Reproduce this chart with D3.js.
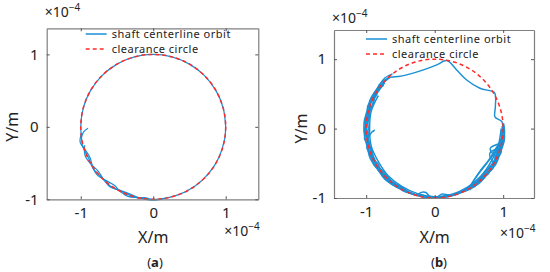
<!DOCTYPE html>
<html>
<head>
<meta charset="utf-8">
<script src="https://cdn.jsdelivr.net/npm/d3@7"></script>
<style>
  body { margin: 0; background: #fff; }
  text { font-family: "Noto Sans", sans-serif; fill: #222; }
</style>
</head>
<body>
<svg id="chart" width="550" height="272"></svg>
<script>
// ---- data (x, y in units of 1e-4 m; orbit points given as [angle deg, radius]) ----
const xTicks = [-1, 0, 1];
const yTicks = [-1, 0, 1];
const clearanceRadius = 1;
const legendLabels = ["shaft centerline orbit", "clearance circle"];
const axisLabels = ["X/m", "Y/m"];
const captions = ["a", "b"];

// panel (a): orbit lies on the clearance circle, a little wobble lower left
const orbitA = [
  [[0,1],[15,1],[30,1],[45,1],[60,1],[75,1],[90,1],[105,1],[120,1],[135,1],[150,1],[165,1],[180,1],
   [188,1.0],[195,1.01],[205,0.99],[215,1.01],[225,0.995],[235,1.01],[245,0.99],[255,1.005],[265,1],
   [275,1],[290,1],[305,1],[320,1],[335,1],[350,1],[360,1]],
  [[181.3,0.90],[184,0.96],[188,1.0]],
  [[186,1.0],[192,1.03],[199,0.99],[206,0.97],[213,1.0],[220,1.02],[228,0.99],[236,0.97],[243,1.0],
   [250,1.02],[257,1.0],[263,0.985],[268,1.0]],
  [[195,0.98],[203,1.02],[211,1.0],[219,0.975],[227,1.0],[234,1.02],[242,0.99],[250,0.98],[258,1.0]],
  [[262,1.0],[270,1.012],[278,1.0]]
];

// panel (b): orbit cuts across the top, dense band on the lower half
const orbitB = [
  [[131.3,0.985],[140,1.0],[150,1.02],[160,1.0],[170,1.02],[180,1.01],[190,1.0],[200,1.02],[210,0.99],
   [220,1.01],[230,1.0],[240,1.0],[250,0.99],[260,1.0],[270,0.99],[280,1.0],[290,1.0],[300,1.0],
   [310,1.01],[320,1.0],[330,1.02],[340,1.0],[350,1.01],[360,1.0],[365.8,0.985],[370.9,0.896],
   [378.7,0.934],[387.4,1.001],[391,1.014],[401.3,0.880],[416.3,0.842],[429.2,0.904],[439.8,0.996],
   [448.1,0.918],[461,0.861],[477.8,0.874],[485.2,0.917],[491.3,0.985]],
  [[140,0.97],[150,1.0],[160,0.97],[170,0.99],[180,0.97],[190,0.99],[200,0.97],[210,1.0],[220,0.97],
   [230,0.99],[240,0.97],[250,1.0],[260,0.98],[270,1.0],[280,0.98],[290,1.0],[300,0.98],[310,0.99],
   [320,0.97],[330,0.99],[340,0.97],[350,0.99],[360,0.98]],
  [[128,1.0],[135,1.03],[145,1.02],[155,1.03],[165,1.02],[175,1.035],[185,1.03],[195,1.02],[205,1.035],
   [215,1.02],[225,1.03],[235,1.01],[245,1.0],[255,0.995],[270,1.0],[285,0.995],[300,1.0],[310,1.02],
   [320,1.01],[330,1.03],[340,1.02],[350,1.03],[358,1.02],[364,1.01]],
  [[150,0.95],[165,0.96],[180,0.95],[195,0.96],[210,0.95],[225,0.96],[240,0.96],[255,0.97],[270,0.98],
   [285,0.98],[300,0.97],[315,0.96],[330,0.95],[345,0.96],[360,0.97]],
  [[136,1.01],[146,0.98],[156,1.025],[166,0.975],[176,1.02],[186,0.97],[196,1.03],[206,0.98],[216,1.02],
   [226,0.975],[236,1.01],[246,0.985],[256,1.0]],
  [[142,1.03],[152,0.99],[162,1.03],[172,0.98],[182,1.03],[192,0.985],[202,1.025],[212,0.97],[222,1.025],
   [232,0.98],[242,1.01],[252,0.99]],
  [[138,0.98],[148,1.01],[158,0.965],[168,1.01],[178,0.99],[188,1.035],[198,0.975],[208,1.02],[218,0.99],
   [228,1.02],[238,0.985],[248,1.0]],
  [[132,0.99],[141,1.02],[151,0.975],[161,1.015],[171,0.965],[181,1.02],[191,0.975],[201,1.0],[211,1.03],
   [221,0.985],[231,1.02],[241,0.99]],
  [[285,1.0],[295,0.98],[305,1.02],[315,0.975],[325,1.025],[335,0.975],[345,1.02],[355,0.98],[362,1.01]],
  [[290,0.99],[300,1.01],[310,0.97],[320,1.02],[330,0.98],[340,1.03],[350,0.975],[358,1.02],[364,0.99]],
  [[295,1.0],[305,0.975],[315,1.015],[325,0.97],[335,1.01],[345,0.97],[355,1.015],[362,0.98]],
  [[300,1.02],[310,0.99],[320,0.965],[330,1.01],[340,0.985],[350,1.025],[360,0.99]],
  [[189.5,1.0],[184,0.93],[181.4,0.88],[183,0.9]],
  [[300,1.0],[306,0.95],[316,0.91],[326,0.91],[340,0.93],[350,0.98]],
  [[303,0.97],[318,0.90],[332,0.92],[344,0.97]],
  [[335,1.0],[340.4,0.86],[348,1.0]],
  [[330,0.99],[336,0.88],[344,0.99]],
  [[255,1.0],[258,0.94],[262,0.93],[265,0.97],[268,1.0]],
  [[272,1.0],[276,0.95],[281,0.97],[285,1.0]]
];

// ---- layout ----
const panels = [
  { orbit: orbitA, width: 1.25, caption: captions[0], left: 46.7, right: 258.3, top: 28.3, bottom: 199.3,
    xDomain: [-1.47, 1.45], yDomain: [-1, 1.36], legendDx: 39, legendDy: 5.7,
    sciTopY: 17, sciBottomY: 236, yLabelX: 12, capX: 155 },
  { orbit: orbitB, width: 1.45, caption: captions[1], left: 334, right: 534, top: 30, bottom: 198,
    xDomain: [-1.47, 1.45], yDomain: [-1, 1.42], legendDx: 32, legendDy: 9,
    sciTopY: 23, sciBottomY: 238, yLabelX: 301, capX: 439 }
];

const blue = "#1a90d5";
const red = "#ff2b2b";
const axisGrey = "#7f7f7f";
const legendGap = 15;

const svg = d3.select("#chart");
svg.append("rect").attr("width", 550).attr("height", 272).attr("fill", "#fff");

panels.forEach(p => drawPanel(p));

function drawPanel(p) {
  const x = d3.scaleLinear().domain(p.xDomain).range([p.left, p.right]);
  const y = d3.scaleLinear().domain(p.yDomain).range([p.bottom, p.top]);
  const g = svg.append("g");

  const toXY = d => [d[1] * Math.cos(d[0] * Math.PI / 180), d[1] * Math.sin(d[0] * Math.PI / 180)];
  const line = d3.line()
    .x(d => x(toXY(d)[0]))
    .y(d => y(toXY(d)[1]))
    .curve(d3.curveCatmullRom.alpha(0.5));

  // orbit
  g.append("g").selectAll("path")
    .data(p.orbit)
    .join("path")
    .attr("d", line)
    .attr("fill", "none")
    .attr("stroke", blue)
    .attr("stroke-width", p.width);

  // clearance circle
  g.append("ellipse")
    .attr("cx", x(0)).attr("cy", y(0))
    .attr("rx", x(clearanceRadius) - x(0))
    .attr("ry", y(0) - y(clearanceRadius))
    .attr("fill", "none")
    .attr("stroke", red)
    .attr("stroke-width", 1.5)
    .attr("stroke-dasharray", "4,3");

  // axes (ticks inside, box on all four sides)
  const axes = [
    [d3.axisBottom(x), `translate(0,${p.bottom})`, xTicks, true],
    [d3.axisTop(x), `translate(0,${p.top})`, xTicks, false],
    [d3.axisLeft(y), `translate(${p.left},0)`, yTicks, true],
    [d3.axisRight(y), `translate(${p.right},0)`, yTicks, false]
  ];
  axes.forEach(([ax, tr, tv, labels]) => {
    ax.tickValues(tv).tickSizeInner(-3).tickSizeOuter(0).tickPadding(8)
      .tickFormat(d => (d < 0 ? "-" : "") + Math.abs(d));
    const a = g.append("g").attr("transform", tr).call(ax);
    a.select(".domain").attr("stroke", axisGrey).attr("stroke-width", 1.2);
    a.selectAll(".tick line").attr("stroke", "#555");
    if (!labels) {
      a.selectAll(".tick text").remove();
      return;
    }
    a.selectAll("text").attr("font-size", 15).attr("fill", "#222")
      .attr("font-family", '"Noto Sans", sans-serif');
  });

  // axis titles
  g.append("text")
    .attr("x", x(0)).attr("y", 243)
    .attr("text-anchor", "middle").attr("font-size", 16)
    .text(axisLabels[0]);
  g.append("text")
    .attr("transform", `translate(${p.yLabelX + 6},${y(0)}) rotate(-90)`)
    .attr("text-anchor", "middle").attr("font-size", 16)
    .text(axisLabels[1]);

  // exponent labels
  const sci = (tx, ty) => {
    const t = g.append("text").attr("x", tx).attr("y", ty).attr("font-size", 14);
    t.append("tspan").text("×10");
    t.append("tspan").attr("dy", -6).attr("font-size", 10).text("−4");
  };
  sci(p.left - 2, p.sciTopY);
  sci(p.right - 34, p.sciBottomY);

  // legend
  const lx = p.left + p.legendDx, ly = p.top + p.legendDy;
  const leg = g.append("g").attr("transform", `translate(${lx},${ly})`);
  leg.append("line").attr("x1", 0).attr("x2", 21).attr("y1", 0).attr("y2", 0)
    .attr("stroke", blue).attr("stroke-width", 1.5);
  leg.append("line").attr("x1", 0).attr("x2", 21).attr("y1", legendGap).attr("y2", legendGap)
    .attr("stroke", red).attr("stroke-width", 1.5).attr("stroke-dasharray", "4,3");
  leg.selectAll("text.lbl")
    .data(legendLabels)
    .join("text")
    .attr("class", "lbl")
    .attr("x", 26).attr("y", (d, i) => i * legendGap + 4)
    .attr("font-size", 11)
    .attr("letter-spacing", 0.5)
    .attr("font-family", '"Liberation Sans", Arial, sans-serif')
    .text(d => d);

  // caption
  const cap = g.append("text").attr("x", p.capX).attr("y", 267)
    .attr("text-anchor", "middle").attr("font-size", 13)
    .attr("font-family", '"Liberation Serif", serif');
  cap.append("tspan").text("(");
  cap.append("tspan").attr("font-weight", "bold").text(p.caption);
  cap.append("tspan").text(")");
}
</script>
</body>
</html>
